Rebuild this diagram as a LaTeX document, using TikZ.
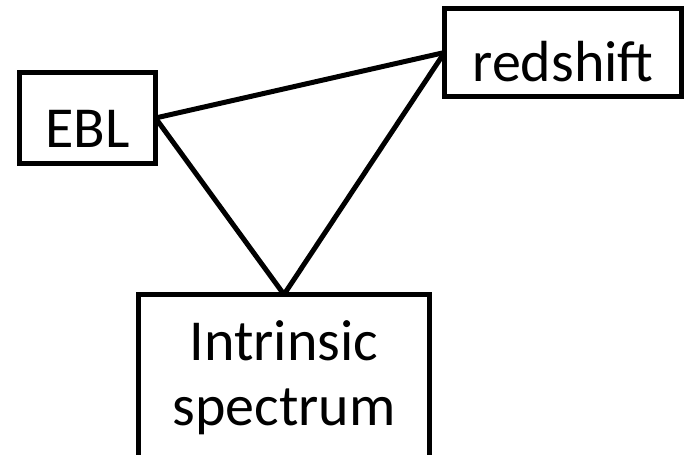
\documentclass[tikz,border=0pt]{standalone}
\usepackage{fontspec}
\setmainfont{Carlito}
\begin{document}
\begin{tikzpicture}[x=1pt,y=-1pt,
  box/.style={draw=black, line width=5pt, outer sep=0pt, inner sep=0pt, font=\fontsize{58}{65}\selectfont},
  oneline/.style={text height=58pt, text depth=0pt},
  link/.style={draw=black, line width=5pt}]
\useasboundingbox (0,0) rectangle (688,455);
\clip (0,0) rectangle (688,455);
\node (ebl) [box, oneline, minimum width=136pt, minimum height=91pt] at (87.5,118) {EBL};
\node (red) [box, oneline, minimum width=237pt, minimum height=88pt] at (563,52.5) {redshift\hspace{14pt}};
\node (intr) [box, anchor=north, align=center, inner xsep=0pt, inner ysep=26pt, minimum width=291pt] at (284,294.5) {Intrinsic\\spectrum};
\draw[link] (ebl.east) -- (red.west);
\draw[link] (ebl.east) -- (intr.north);
\draw[link] (red.west) -- (intr.north);
\end{tikzpicture}
\end{document}
